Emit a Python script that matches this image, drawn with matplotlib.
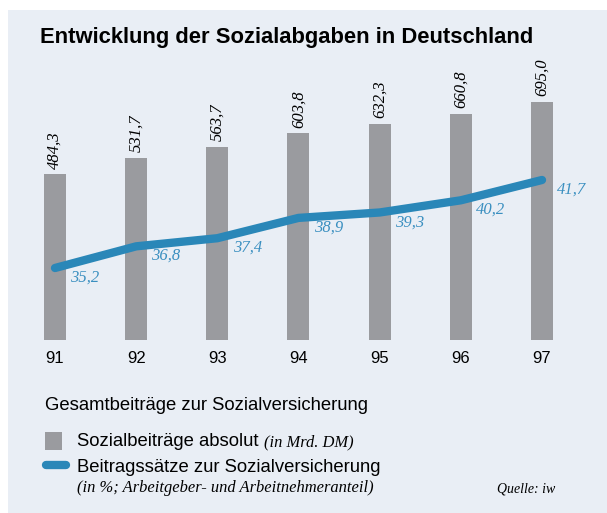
import numpy as np
import matplotlib.pyplot as plt
from matplotlib.patches import Rectangle
from matplotlib.lines import Line2D

years = ["91", "92", "93", "94", "95", "96", "97"]
absolut = [484.3, 531.7, 563.7, 603.8, 632.3, 660.8, 695.0]
saetze = [35.2, 36.8, 37.4, 38.9, 39.3, 40.2, 41.7]

W, H = 607, 513
bg = "#e9eef5"
grey = "#9a9b9f"
blue = "#2a87b8"
sans = "Liberation Sans"
serif = "Liberation Serif"


def fx(px):
    return px / W


def fy(py):
    return 1 - py / H


fig = plt.figure(figsize=(W / 100, H / 100), dpi=100)
fig.patch.set_facecolor("white")
fig.patches.append(Rectangle((fx(8), 0), 1 - fx(8), fy(10), transform=fig.transFigure,
                             facecolor=bg, edgecolor="none", zorder=-5))

# axes spanning pixel x 15..590, y 60..340
ax = fig.add_axes([fx(15), fy(340), fx(575), 280 / H])
ax.set_facecolor("none")
x = np.arange(len(years))
unit = (542 - 55) / 6
ax.set_xlim(-(55 - 15) / unit, 6 + (590 - 542) / unit)
ax.set_ylim(0, 280 / 0.3424)
ax.bar(x, absolut, width=22 / unit, color=grey, zorder=1)
for xi, v in zip(x, absolut):
    ax.annotate(f"{v:.1f}".replace(".", ","), (xi, v), xytext=(0, 4), textcoords="offset points",
                rotation=90, ha="center", va="bottom", fontsize=12, family=serif,
                style="italic", color="black")
ax.axis("off")

ax2 = ax.twinx()
ax2.set_ylim(35.2 - 72 / 13.54, 35.2 - 72 / 13.54 + 280 / 13.54)
ax2.plot(x, saetze, color=blue, lw=6, solid_capstyle="round", solid_joinstyle="round", zorder=3)
for xi, v in zip(x, saetze):
    ax2.annotate(f"{v:.1f}".replace(".", ","), (xi, v), xytext=(11, -7), textcoords="offset points",
                 ha="left", va="center", fontsize=12, family=serif, style="italic", color="#3a8fc0")
ax2.axis("off")

for xi, lab in zip(x, years):
    ax.annotate(lab, (xi, 0), xytext=(0, -13), textcoords="offset points", ha="center",
                va="center", fontsize=12, family=sans, color="black", annotation_clip=False)

fig.text(fx(40), fy(38), "Entwicklung der Sozialabgaben in Deutschland", fontsize=15.8,
         family=sans, weight="bold", va="center", ha="left")

fig.text(fx(45), fy(406), "Gesamtbeiträge zur Sozialversicherung", fontsize=13.3, family=sans,
         va="center", ha="left")

fig.patches.append(Rectangle((fx(45), fy(450)), fx(17), 18 / H, transform=fig.transFigure,
                             facecolor=grey, edgecolor="none"))
t1 = fig.text(fx(77), fy(441), "Sozialbeiträge absolut", fontsize=13.3, family=sans,
              va="center", ha="left")
fig.lines.append(Line2D([fx(46), fx(66)], [fy(465), fy(465)], transform=fig.transFigure,
                        color=blue, lw=6, solid_capstyle="round"))
fig.text(fx(77), fy(467), "Beitragssätze zur Sozialversicherung", fontsize=13.3, family=sans,
         va="center", ha="left")
fig.text(fx(77), fy(488), "(in %; Arbeitgeber- und Arbeitnehmeranteil)", fontsize=11.9,
         family=serif, style="italic", va="center", ha="left")
fig.text(fx(497), fy(489), "Quelle: iw", fontsize=10, family=serif, style="italic",
         va="center", ha="left")

# "(in Mrd. DM)" right after t1
fig.canvas.draw()
bb = t1.get_window_extent()
fig.text(bb.x1 / W + fx(5), fy(442), "(in Mrd. DM)", fontsize=11.9, family=serif,
         style="italic", va="center", ha="left")

fig.savefig("out.png", dpi=100)
